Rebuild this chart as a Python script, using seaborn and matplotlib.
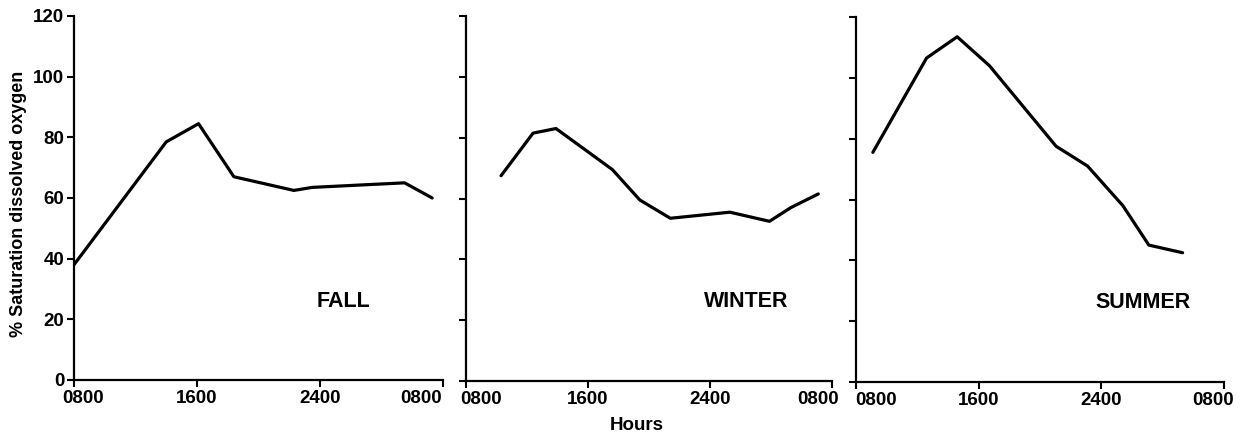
import numpy as np
import pandas as pd
import matplotlib
matplotlib.use("Agg")
import matplotlib.pyplot as plt
import matplotlib.transforms as mtransforms
import seaborn as sns

# Hours elapsed since 0800
fall_hours = [0, 6.0, 8.1, 10.4, 14.3, 15.5, 21.5, 23.3]
fall_vals = [38, 78.5, 84.5, 67, 62.5, 63.5, 65, 60]

winter_hours = [2.3, 4.4, 5.9, 9.6, 11.4, 13.4, 17.3, 19.9, 21.3, 23.1]
winter_vals = [67.5, 81.5, 83, 69.5, 59.5, 53.5, 55.5, 52.5, 57, 61.5]

summer_hours = [1.1, 4.6, 6.6, 8.7, 13.05, 15.1, 17.4, 19.1, 21.3]
summer_vals = [75.5, 106.5, 113.5, 104, 77.5, 71, 58, 45, 42.5]

seasons = ["FALL", "WINTER", "SUMMER"]
xtick_pos = [0, 8, 16, 24]
xtick_labels = ["0800", "1600", "2400", "0800"]
ytick_pos = [0, 20, 40, 60, 80, 100, 120]

sns.set_style("ticks")
plt.rcParams['font.family'] = ['Liberation Sans', 'DejaVu Sans']
plt.rcParams['font.weight'] = 'bold'
for k in ['text.color', 'axes.labelcolor', 'xtick.color', 'ytick.color', 'axes.edgecolor']:
    plt.rcParams[k] = 'black'

W, H = 1251, 434
fig = plt.figure(figsize=(W / 100, H / 100), dpi=100)

# pixel boxes: (left, right, top, bottom)
boxes = [(74, 443, 16, 380), (466, 832, 16, 381), (856, 1224, 17, 382)]
data = [(fall_hours, fall_vals), (winter_hours, winter_vals), (summer_hours, summer_vals)]
label_x = [17.5, 18.4, 18.7]
first_shift = [9, 15, 20]
last_shift = [-22, -14, -11]

for i, ((l, r, t, b), (hx, vy), name) in enumerate(zip(boxes, data, seasons)):
    ax = fig.add_axes([l / W, (H - b) / H, (r - l) / W, (b - t) / H])
    df = pd.DataFrame({"hours": hx, "sat": vy})
    sns.lineplot(data=df, x="hours", y="sat", ax=ax, color="black", linewidth=2.3)
    ax.set_xlim(0, 24)
    ax.set_ylim(0, 120)
    ax.tick_params(axis='both', direction='out', length=5, width=1.5, color='black', pad=2)
    ax.set_xticks(xtick_pos)
    ax.set_xticklabels(xtick_labels, fontsize=13.5, fontweight='bold')
    ax.set_yticks(ytick_pos)
    if i == 0:
        ax.set_yticklabels([str(v) for v in ytick_pos], fontsize=13.5, fontweight='bold')
        ax.set_ylabel("% Saturation dissolved oxygen", fontsize=13, fontweight='bold')
        ax.yaxis.set_label_coords(-0.127, 0.4835)
    else:
        ax.set_yticklabels([])
        ax.set_ylabel("")
    if i == 1:
        ax.set_xlabel("Hours", fontsize=13.5, fontweight='bold')
        ax.xaxis.set_label_coords(0.467, -0.098)
    else:
        ax.set_xlabel("")
    for s in ['top', 'right']:
        ax.spines[s].set_visible(False)
    for s in ['left', 'bottom']:
        ax.spines[s].set_linewidth(1.6)
        ax.spines[s].set_color('black')
    ax.text(label_x[i], 26, name, ha='center', va='center', fontsize=15.5, fontweight='bold')
    # shift the end tick labels inward, as in the original figure
    ticks = ax.xaxis.get_major_ticks()
    for tk, dx in ((ticks[0], first_shift[i]), (ticks[-1], last_shift[i])):
        lab = tk.label1
        lab.set_transform(lab.get_transform() +
                          mtransforms.ScaledTranslation(dx / 100, 0, fig.dpi_scale_trans))

fig.savefig("out.png", dpi=100)
